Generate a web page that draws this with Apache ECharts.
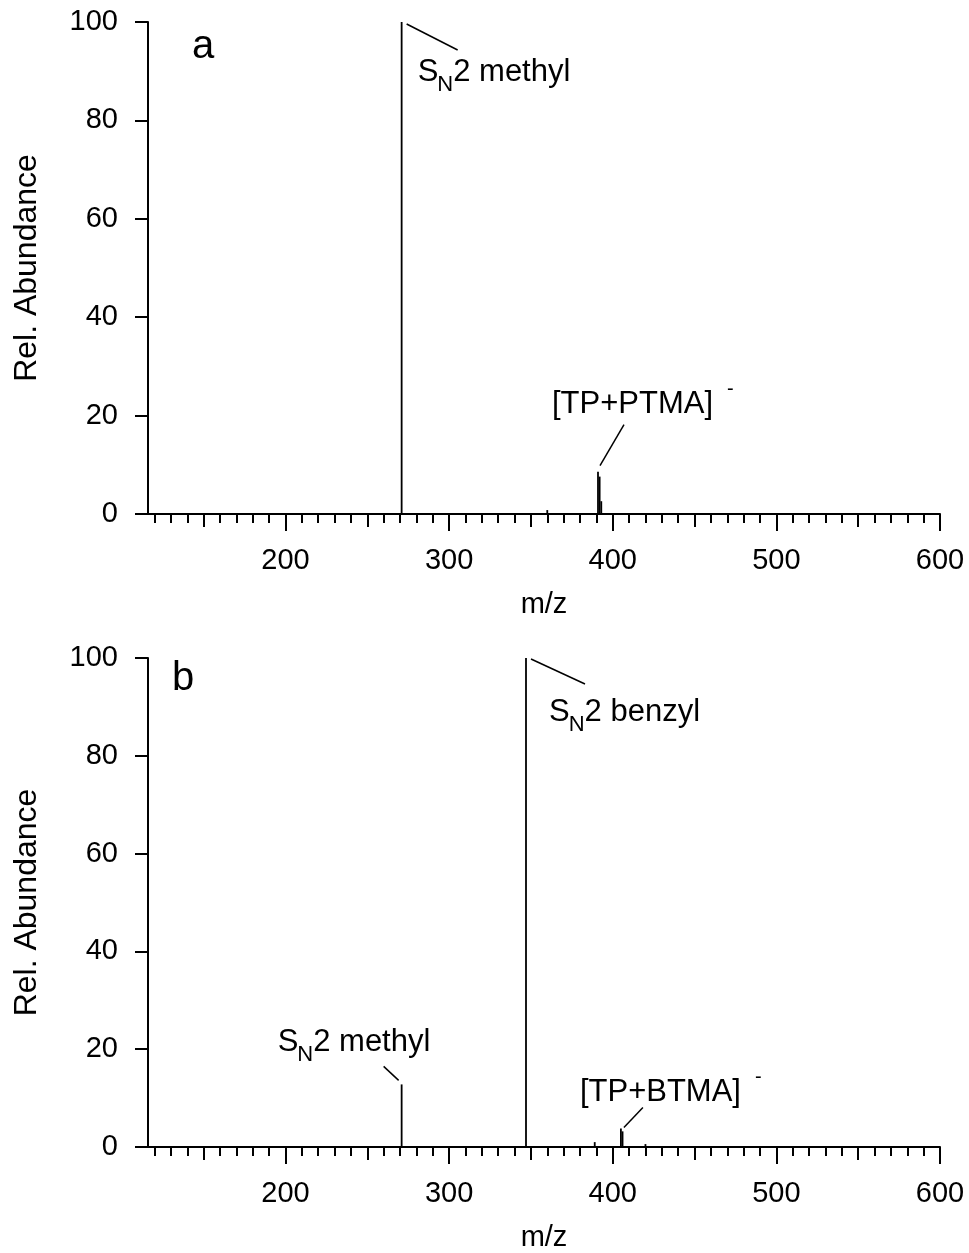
<!DOCTYPE html>
<html>
<head>
<meta charset="utf-8">
<script src="https://cdn.jsdelivr.net/npm/echarts@6/dist/echarts.min.js"></script>
<style>
  html, body { margin: 0; padding: 0; background: #fff; }
  #main { width: 969px; height: 1253px; }
</style>
</head>
<body>
<div id="main"></div>
<script>
// peaks, panel a
const mzA = [271, 360, 391, 392, 393];
const abundA = [100, 0.8, 8.6, 7.6, 2.6];
// peaks, panel b
const mzB = [271, 347, 389, 405, 406, 420];
const abundB = [12.8, 100, 1, 3.8, 3.2, 0.6];

const xMajorTicks = [200, 300, 400, 500, 600];
const xMidTicks = [150, 250, 350, 450, 550];
const xMinorTicks = [120, 130, 140, 160, 170, 180, 190, 210, 220, 230, 240, 260, 270, 280, 290,
  310, 320, 330, 340, 360, 370, 380, 390, 410, 420, 430, 440, 460, 470, 480, 490,
  510, 520, 530, 540, 560, 570, 580, 590];
const X_MIN = 116, X_MAX = 600;

const panelLetters = ['a', 'b'];

// annotation text, tied to a peak (grid, m/z, abundance)
const annotations = [
  { grid: 0, mz: 271, ab: 100, text: '{s|S}{sub|N}{s|2 methyl}' },
  { grid: 0, mz: 391, ab: 8.6, text: '{s|[TP+PTMA]}{sup|-}' },
  { grid: 1, mz: 271, ab: 12.8, text: '{s|S}{sub|N}{s|2 methyl}' },
  { grid: 1, mz: 347, ab: 100, text: '{s|S}{sub|N}{s|2 benzyl}' },
  { grid: 1, mz: 405, ab: 3.8, text: '{s|[TP+BTMA]}{sup|-}' }
];
// pixel offsets from the peak top: leader line start/end, text left/middle
const annotLayout = [
  { line: [5, 2, 56, 28], txt: [16, 50] },
  { line: [26, -47, 2, -6], txt: [-46, -67] },
  { line: [-18, -18, -3, -4], txt: [-124, -42] },
  { line: [5, 1, 59, 26], txt: [23, 54] },
  { line: [22, -21, 3, -1], txt: [-41, -36] }
];

const FONT = '"Liberation Sans", Arial, Helvetica, sans-serif';

const chart = echarts.init(document.getElementById('main'));

function tickAxis(gridIndex, values, len, main) {
  return {
    type: 'value', gridIndex: gridIndex, position: 'bottom',
    min: X_MIN, max: X_MAX,
    splitLine: { show: false },
    axisLine: { show: !!main, onZero: false, lineStyle: { color: '#000', width: 2 } },
    axisTick: { show: true, customValues: values, length: len, lineStyle: { color: '#000', width: 2 } },
    axisLabel: main ? {
      show: true, customValues: xMajorTicks, margin: 32,
      fontSize: 29, fontFamily: FONT, color: '#000'
    } : { show: false },
    name: main ? 'm/z' : '',
    nameLocation: 'middle', nameGap: 76,
    nameTextStyle: { fontSize: 29, fontFamily: FONT, color: '#000' }
  };
}

function yAxis(gridIndex) {
  return {
    type: 'value', gridIndex: gridIndex, min: 0, max: 100, interval: 20,
    splitLine: { show: false },
    axisLine: { show: true, lineStyle: { color: '#000', width: 2 } },
    axisTick: { show: true, length: 13, lineStyle: { color: '#000', width: 2 } },
    axisLabel: { margin: 30, fontSize: 29, fontFamily: FONT, color: '#000' },
    name: 'Rel. Abundance', nameLocation: 'middle', nameGap: 105,
    nameTextStyle: { fontSize: 32, fontFamily: FONT, color: '#000' }
  };
}

function stickSeries(xi, yi, mz, ab) {
  return {
    type: 'custom', xAxisIndex: xi, yAxisIndex: yi,
    data: mz.map((m, i) => [m, ab[i]]),
    encode: { x: 0, y: 1 },
    silent: true,
    renderItem: function (params, api) {
      const p0 = api.coord([api.value(0), 0]);
      const p1 = api.coord([api.value(0), api.value(1)]);
      return {
        type: 'line',
        shape: { x1: p0[0], y1: p0[1], x2: p1[0], y2: p1[1] },
        style: { stroke: '#000', lineWidth: 1.8 }
      };
    }
  };
}

chart.setOption({
  animation: false,
  backgroundColor: '#fff',
  grid: [
    { left: 148, top: 22, width: 792, height: 492 },
    { left: 148, top: 658, width: 792, height: 490 }
  ],
  xAxis: [
    tickAxis(0, xMinorTicks, 9, false),
    tickAxis(0, xMidTicks, 13, false),
    tickAxis(0, xMajorTicks, 17, true),
    tickAxis(1, xMinorTicks, 9, false),
    tickAxis(1, xMidTicks, 13, false),
    tickAxis(1, xMajorTicks, 17, true)
  ],
  yAxis: [yAxis(0), yAxis(1)],
  series: [
    stickSeries(2, 0, mzA, abundA),
    stickSeries(5, 1, mzB, abundB)
  ]
});

// panel letters and peak annotations
const graphics = [
  { type: 'text', x: 192, y: 47, style: { text: panelLetters[0], fontSize: 40, fontFamily: FONT, fill: '#000', verticalAlign: 'middle' } },
  { type: 'text', x: 172, y: 679, style: { text: panelLetters[1], fontSize: 40, fontFamily: FONT, fill: '#000', verticalAlign: 'middle' } }
];
const rich = {
  s: { fontSize: 31, fontFamily: FONT, color: '#000', lineHeight: 32 },
  sub: { fontSize: 22, fontFamily: FONT, color: '#000', lineHeight: 4, padding: [26, 0, 0, -1] },
  sup: { fontSize: 20, fontFamily: FONT, color: '#000', lineHeight: 4, padding: [0, 0, 30, 14] }
};
annotations.forEach((a, i) => {
  const xi = a.grid === 0 ? 2 : 5;
  const p = chart.convertToPixel({ xAxisIndex: xi, yAxisIndex: a.grid }, [a.mz, a.ab]);
  const L = annotLayout[i];
  graphics.push({
    type: 'line', silent: true,
    shape: { x1: p[0] + L.line[0], y1: p[1] + L.line[1], x2: p[0] + L.line[2], y2: p[1] + L.line[3] },
    style: { stroke: '#000', lineWidth: 1.5 }
  });
  graphics.push({
    type: 'text', silent: true,
    x: p[0] + L.txt[0], y: p[1] + L.txt[1],
    style: { text: a.text, rich: rich, align: 'left', verticalAlign: 'middle', fontFamily: FONT, fontSize: 31, fill: '#000' }
  });
});
chart.setOption({ graphic: graphics });
</script>
</body>
</html>
